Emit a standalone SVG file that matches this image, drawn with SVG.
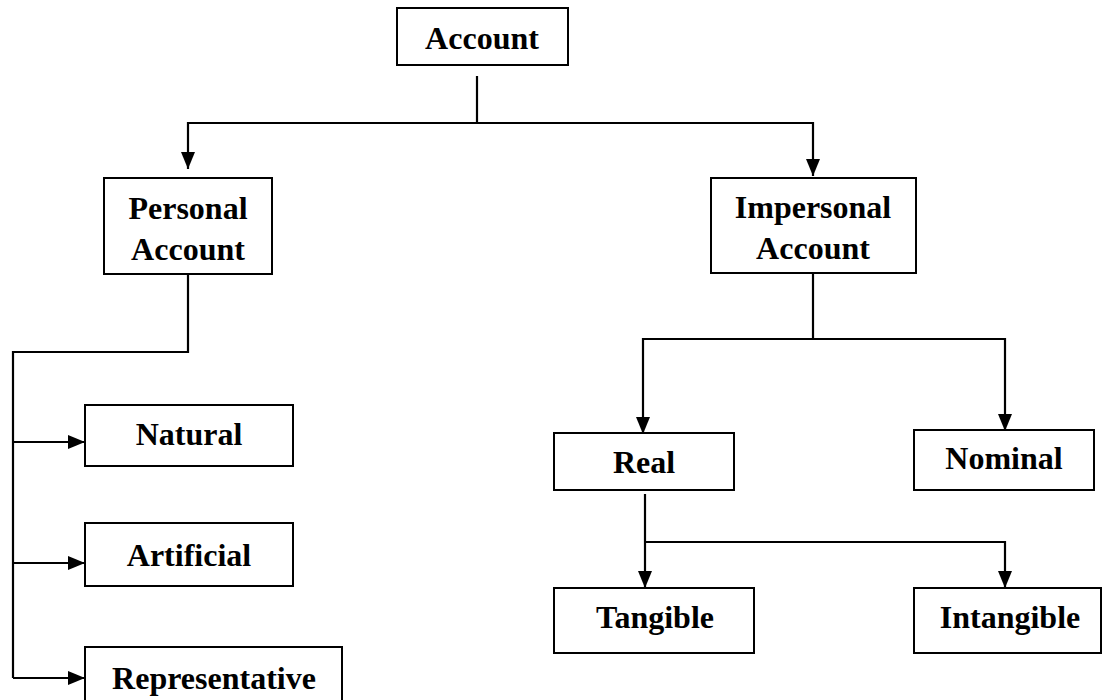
<svg xmlns="http://www.w3.org/2000/svg" width="1102" height="700" viewBox="0 0 1102 700">
<style>
.box{fill:#fff;stroke:#000;stroke-width:2}
.lbl{font-family:"Liberation Serif","Times New Roman",serif;font-weight:bold;font-size:32px;text-anchor:middle;fill:#000}
.ln{fill:none;stroke:#000;stroke-width:2.2}
</style>
<defs>
<marker id="ah" markerUnits="userSpaceOnUse" markerWidth="17" markerHeight="14" viewBox="0 0 17 14" refX="17" refY="7" orient="auto">
<path d="M0,0 L17,7 L0,14 z" fill="#000"/>
</marker>
</defs>
<rect width="1102" height="700" fill="#fff"/>
<g id="connectors">
<path class="ln" d="M477,76 V123"/>
<path class="ln" d="M477,123 H188 V169" marker-end="url(#ah)"/>
<path class="ln" d="M477,123 H813 V176" marker-end="url(#ah)"/>
<path class="ln" d="M188,274 V352 H13 V678"/>
<path class="ln" d="M13,442 H85" marker-end="url(#ah)"/>
<path class="ln" d="M13,563 H85" marker-end="url(#ah)"/>
<path class="ln" d="M13,678 H85" marker-end="url(#ah)"/>
<path class="ln" d="M813,273 V339"/>
<path class="ln" d="M813,339 H643 V434" marker-end="url(#ah)"/>
<path class="ln" d="M813,339 H1005 V431" marker-end="url(#ah)"/>
<path class="ln" d="M645,494 V588" marker-end="url(#ah)"/>
<path class="ln" d="M645,542 H1005 V588" marker-end="url(#ah)"/>
</g>
<g id="account"><rect class="box" x="397" y="8" width="171" height="57"/><text class="lbl" x="482" y="49">Account</text></g>
<g id="personal"><rect class="box" x="104" y="178" width="168" height="96"/><text class="lbl" x="188" y="219">Personal</text><text class="lbl" x="188" y="260">Account</text></g>
<g id="impersonal"><rect class="box" x="711" y="178" width="205" height="95"/><text class="lbl" x="813" y="218">Impersonal</text><text class="lbl" x="813" y="259">Account</text></g>
<g id="natural"><rect class="box" x="85" y="405" width="208" height="61"/><text class="lbl" x="189" y="445">Natural</text></g>
<g id="artificial"><rect class="box" x="85" y="523" width="208" height="63"/><text class="lbl" x="189" y="566">Artificial</text></g>
<g id="representative"><rect class="box" x="85" y="647" width="257" height="60"/><text class="lbl" x="214" y="689">Representative</text></g>
<g id="real"><rect class="box" x="554" y="433" width="180" height="57"/><text class="lbl" x="644" y="473">Real</text></g>
<g id="nominal"><rect class="box" x="914" y="430" width="180" height="60"/><text class="lbl" x="1004" y="469">Nominal</text></g>
<g id="tangible"><rect class="box" x="554" y="588" width="200" height="65"/><text class="lbl" x="655" y="628">Tangible</text></g>
<g id="intangible"><rect class="box" x="914" y="588" width="187" height="65"/><text class="lbl" x="1010" y="628">Intangible</text></g>
</svg>
